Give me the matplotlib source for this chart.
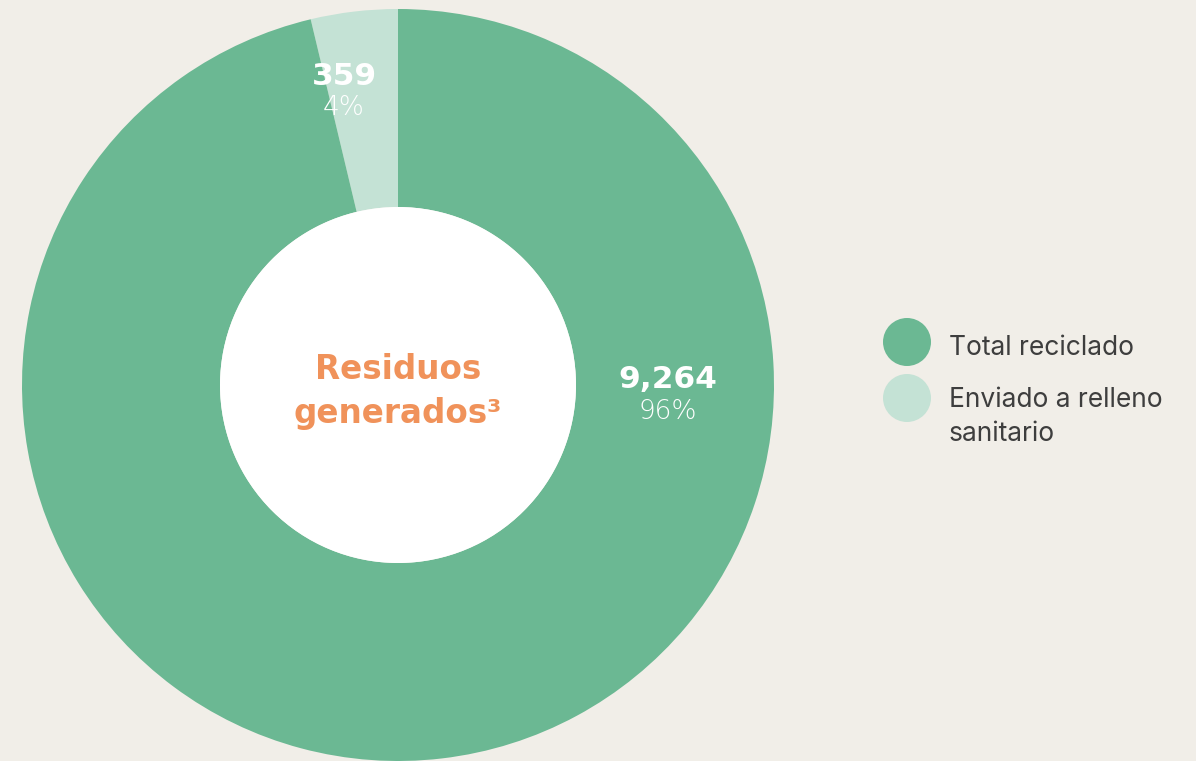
import matplotlib
matplotlib.use("Agg")
import matplotlib.pyplot as plt
from matplotlib.patches import Circle

# Data
categories = ["Enviado a relleno\nsanitario", "Total reciclado"]
values = [359, 9264]
value_labels = ["359", "9,264"]
pct_labels = ["4%", "96%"]
colors = ["#C4E2D5", "#6BB893"]

BG = "#F1EEE8"
W, H = 1196, 761

fig = plt.figure(figsize=(W / 100, H / 100), dpi=100, facecolor=BG)
ax = fig.add_axes([0, 0, 1, 1])
ax.set_facecolor(BG)

cx, cy, R = 398, H - 385, 376
hole = 178 / R

wedges, _ = ax.pie(values, colors=colors, startangle=90, counterclock=True,
                   radius=R, center=(cx, cy),
                   wedgeprops=dict(width=R * (1 - hole), linewidth=0))
ax.add_patch(Circle((cx, cy), R * hole, facecolor="white", edgecolor="none", zorder=3))
ax.set_xlim(0, W)
ax.set_ylim(0, H)
ax.set_aspect("equal")
ax.axis("off")

num_font = "DejaVu Sans"
# value labels
ax.text(344, H - 85, value_labels[0], ha="center", va="baseline", color="white",
        fontsize=22.5, fontweight="bold", family=num_font, zorder=5)
ax.text(344, H - 115, pct_labels[0], ha="center", va="baseline", color="white",
        fontsize=19, fontweight=200, family=num_font, zorder=5)
ax.text(668, H - 388, value_labels[1], ha="center", va="baseline", color="white",
        fontsize=22.5, fontweight="bold", family=num_font, zorder=5)
ax.text(668, H - 419, pct_labels[1], ha="center", va="baseline", color="white",
        fontsize=19, fontweight=200, family=num_font, zorder=5)

# centre title
ax.text(cx, H - 379, "Residuos", ha="center", va="baseline", color="#F0925A",
        fontsize=23.5, fontweight="bold", family=num_font, zorder=5)
ax.text(cx, H - 423, "generados³", ha="center", va="baseline", color="#F0925A",
        fontsize=23.5, fontweight="bold", family=num_font, zorder=5)

# legend
leg_circles = [(colors[1], 342), (colors[0], 398)]
for col, y in leg_circles:
    ax.add_patch(Circle((907, H - y), 24, facecolor=col, edgecolor="none", zorder=5))

leg_lines = [("Total reciclado", 355), ("Enviado a relleno", 407), ("sanitario", 441)]
for txt, y in leg_lines:
    ax.text(949, H - y, txt, ha="left", va="baseline", color="#3E3E3E",
            fontsize=19, family="Inter", zorder=5)

fig.savefig("out.png", dpi=100, facecolor=BG)
